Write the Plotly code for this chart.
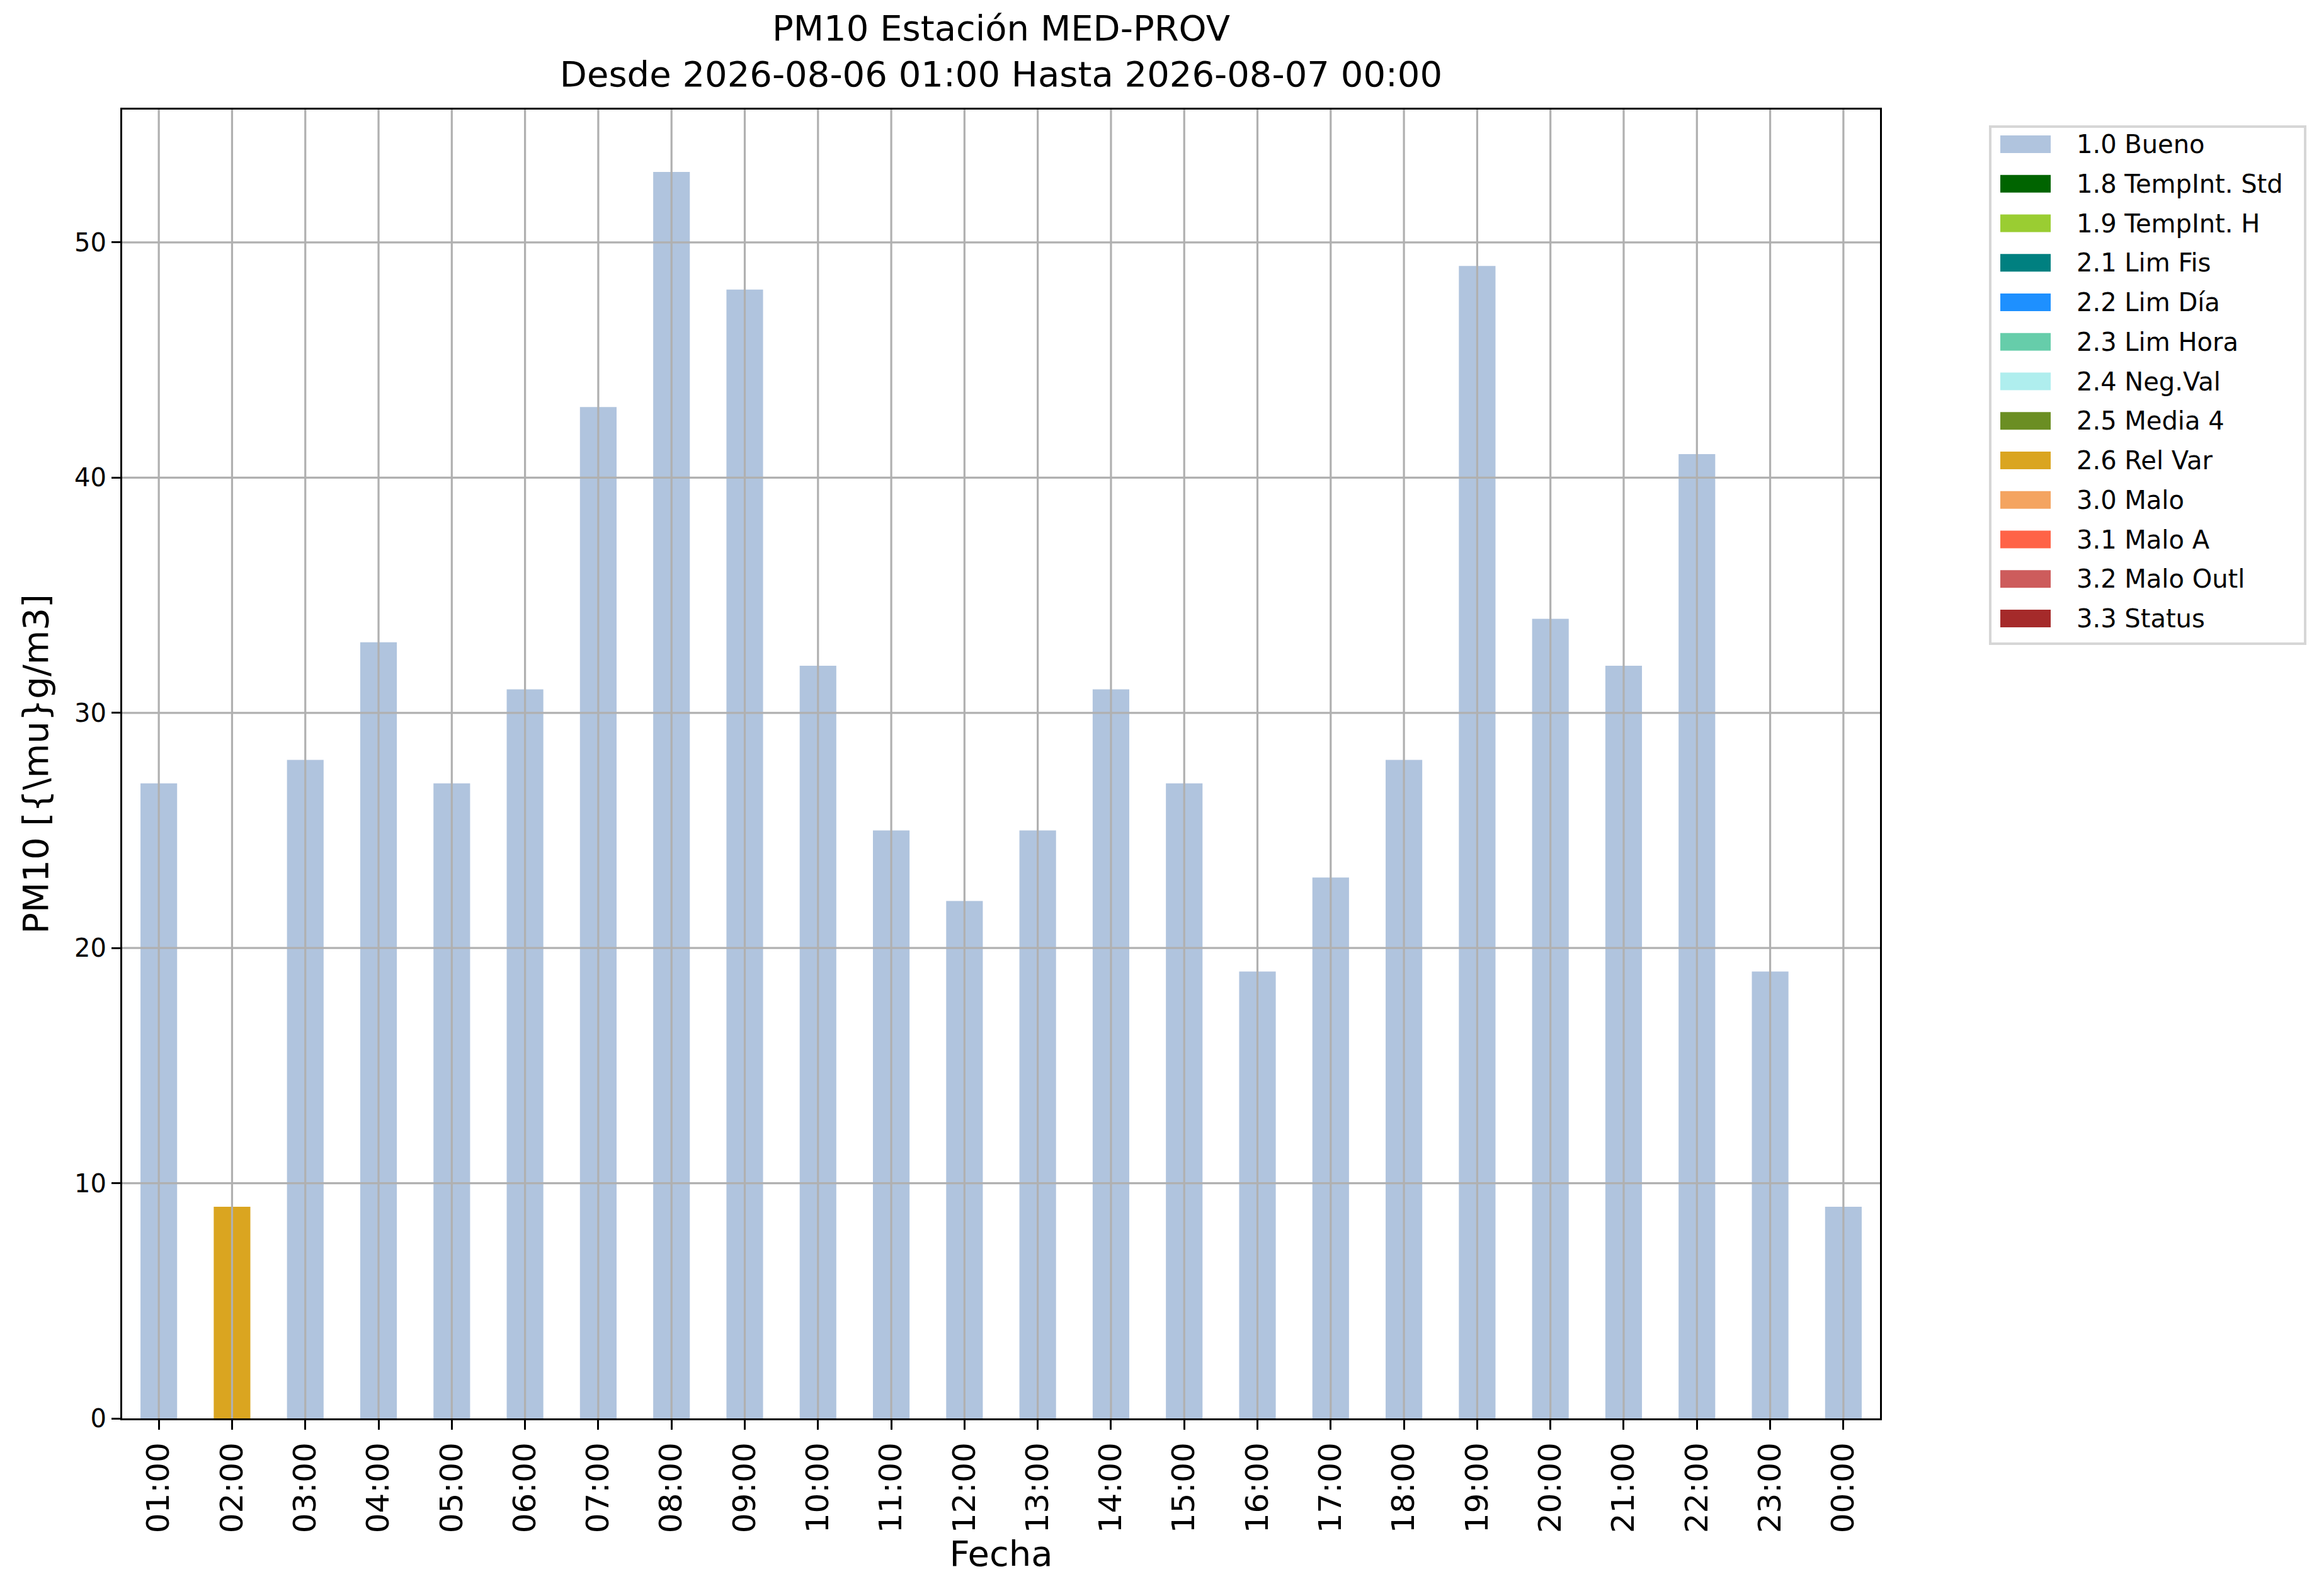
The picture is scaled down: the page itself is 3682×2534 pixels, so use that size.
import plotly.graph_objects as go

# datos horarios PM10
hours = ['01:00', '02:00', '03:00', '04:00', '05:00', '06:00', '07:00', '08:00',
         '09:00', '10:00', '11:00', '12:00', '13:00', '14:00', '15:00', '16:00',
         '17:00', '18:00', '19:00', '20:00', '21:00', '22:00', '23:00', '00:00']
pm10 = [27, 9, 28, 33, 27, 31, 43, 53, 48, 32, 25, 22,
        25, 31, 27, 19, 23, 28, 49, 34, 32, 41, 19, 9]
flags = ['1.0 Bueno', '2.6 Rel Var'] + ['1.0 Bueno'] * 22

# categorias de validacion y sus colores
categories = ['1.0 Bueno', '1.8 TempInt. Std', '1.9 TempInt. H', '2.1 Lim Fis',
              '2.2 Lim Día', '2.3 Lim Hora', '2.4 Neg.Val', '2.5 Media 4',
              '2.6 Rel Var', '3.0 Malo', '3.1 Malo A', '3.2 Malo Outl', '3.3 Status']
cat_colors = ['#B0C4DE', '#006400', '#9ACD32', '#008080', '#1E90FF', '#66CDAA',
              '#AFEEEE', '#6B8E23', '#DAA520', '#F4A460', '#FF6347', '#CD5C5C', '#A52A2A']
y_ticks = [10, 20, 30, 40, 50]

# tamaño de figura y margenes (px)
W, H = 3682, 2534
L, R, T, B = 186, 705, 166, 290
PW, PH = W - L - R, H - T - B
FONT = 'DejaVu Sans'


def px_x(x):
    return (x - L) / PW


def px_y(y):
    return (H - B - y) / PH


fig = go.Figure()

# una traza por categoria (solo las horas con esa bandera)
for cat, col in zip(categories, cat_colors):
    y = [v if f == cat else None for v, f in zip(pm10, flags)]
    fig.add_trace(go.Bar(x=hours, y=y, name=cat, marker_color=col,
                         marker_line_width=0, width=0.5, showlegend=False))

# grid por encima de las barras (como matplotlib)
for h in hours:
    fig.add_shape(type='line', xref='x', yref='paper', x0=h, x1=h, y0=0, y1=1,
                  line=dict(color='#b0b0b0', width=3.2), layer='above')
for t in y_ticks:
    fig.add_shape(type='line', xref='paper', yref='y', x0=0, x1=1, y0=t, y1=t,
                  line=dict(color='#b0b0b0', width=3.2), layer='above')

# leyenda manual (parches anchos como matplotlib)
fig.add_shape(type='rect', xref='paper', yref='paper',
              x0=px_x(3152), x1=px_x(3652), y0=px_y(1014), y1=px_y(193),
              line=dict(color='#d6d6d6', width=4), fillcolor='white')
for i, (cat, col) in enumerate(zip(categories, cat_colors)):
    yc = 221 + i * 62.75
    fig.add_shape(type='rect', xref='paper', yref='paper',
                  x0=px_x(3168), x1=px_x(3248), y0=px_y(yc + 14), y1=px_y(yc - 14),
                  line_width=0, fillcolor=col)
    fig.add_annotation(x=px_x(3287), y=px_y(yc), xref='paper', yref='paper',
                       text=cat, showarrow=False, xanchor='left', yanchor='middle',
                       font=dict(family=FONT, size=40, color='black'))

fig.update_layout(
    width=W, height=H,
    margin=dict(l=L, r=R, t=T, b=B),
    paper_bgcolor='white', plot_bgcolor='white',
    barmode='overlay',
    font=dict(family=FONT, color='black'),
    title=dict(text='PM10 Estación MED-PROV<br>Desde 2026-08-06 01:00 Hasta 2026-08-07 00:00',
               x=px_x((L + W - R) / 2), xref='paper', xanchor='center',
               y=1 - 56 / H, yref='container', yanchor='top',
               font=dict(family=FONT, size=56)),
)

fig.update_xaxes(
    range=[-0.5, 23.5], showgrid=False,
    showline=True, linecolor='black', linewidth=3.2, mirror=True,
    ticks='outside', ticklen=15, tickwidth=3.2, tickcolor='black',
    tickangle=-90, tickfont=dict(size=50),
    title=dict(text='Fecha', font=dict(size=56), standoff=14),
)
fig.update_yaxes(
    range=[0, 55.65], dtick=10, showgrid=False, zeroline=False,
    showline=True, linecolor='black', linewidth=3.2, mirror=True,
    ticks='outside', ticklen=14, tickwidth=3.2, tickcolor='black',
    tickfont=dict(size=40),
    title=dict(text='PM10 [{\\mu}g/m3]', font=dict(size=56), standoff=24),
)

fig.write_html("out.html")
